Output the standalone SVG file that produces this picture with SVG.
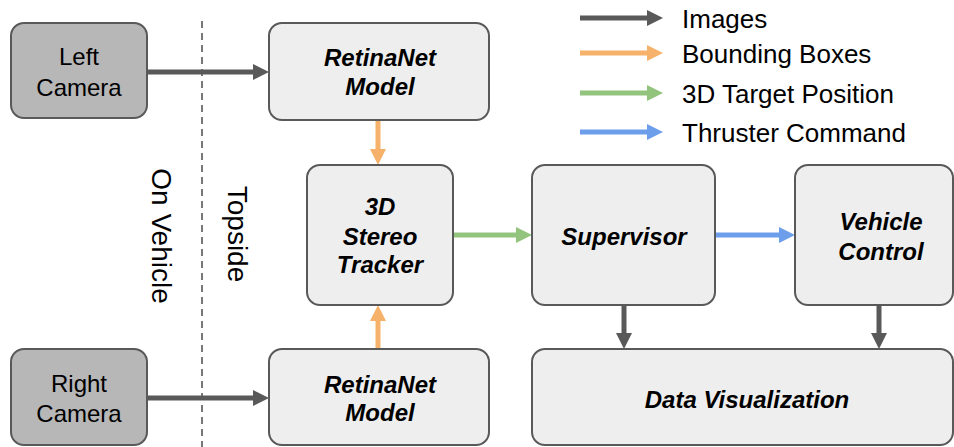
<svg xmlns="http://www.w3.org/2000/svg" width="954" height="447" viewBox="0 0 954 447">
<style>
.box{fill:#eeeeee;stroke:#595959;stroke-width:2}
.cam{fill:#b7b7b7;stroke:#595959;stroke-width:2}
.t{font-family:"Liberation Sans",Arial,sans-serif;font-size:24px;fill:#000;text-anchor:middle}
.b{font-family:"Liberation Sans",Arial,sans-serif;font-size:24px;font-weight:bold;font-style:italic;fill:#000;text-anchor:middle}
.lg{font-family:"Liberation Sans",Arial,sans-serif;font-size:26px;fill:#000}
.side{font-family:"Liberation Sans",Arial,sans-serif;font-size:28px;fill:#000;text-anchor:middle}
.g{stroke:#595959;stroke-width:5;fill:none}
.o{stroke:#f6b26b;stroke-width:5;fill:none}
.gr{stroke:#93c47d;stroke-width:5;fill:none}
.bl{stroke:#6d9eeb;stroke-width:5;fill:none}
</style>
<defs>
<marker id="mg" viewBox="0 0 16 16" markerWidth="16" markerHeight="16" refX="0" refY="8" orient="auto" markerUnits="userSpaceOnUse"><path d="M0,0 L16,8 L0,16 z" fill="#595959"/></marker>
<marker id="mo" viewBox="0 0 16 16" markerWidth="16" markerHeight="16" refX="0" refY="8" orient="auto" markerUnits="userSpaceOnUse"><path d="M0,0 L16,8 L0,16 z" fill="#f6b26b"/></marker>
<marker id="mgr" viewBox="0 0 16 16" markerWidth="16" markerHeight="16" refX="0" refY="8" orient="auto" markerUnits="userSpaceOnUse"><path d="M0,0 L16,8 L0,16 z" fill="#93c47d"/></marker>
<marker id="mbl" viewBox="0 0 16 16" markerWidth="16" markerHeight="16" refX="0" refY="8" orient="auto" markerUnits="userSpaceOnUse"><path d="M0,0 L16,8 L0,16 z" fill="#6d9eeb"/></marker>
</defs>
<rect width="954" height="447" fill="#ffffff"/>

<line x1="202" y1="21" x2="202" y2="447" stroke="#777777" stroke-width="2" stroke-dasharray="7,5"/>
<text class="side" transform="translate(152,236) rotate(90)">On Vehicle</text>
<text class="side" transform="translate(228,234) rotate(90)">Topside</text>

<g id="legend">
<line class="g" x1="580" y1="18" x2="647" y2="18" stroke-width="4" marker-end="url(#mg)"/>
<text class="lg" x="682" y="28">Images</text>
<line class="o" x1="580" y1="53" x2="647" y2="53" stroke-width="4" marker-end="url(#mo)"/>
<text class="lg" x="682" y="63">Bounding Boxes</text>
<line class="gr" x1="580" y1="93" x2="647" y2="93" stroke-width="4" marker-end="url(#mgr)"/>
<text class="lg" x="682" y="103">3D Target Position</text>
<line class="bl" x1="580" y1="132" x2="647" y2="132" stroke-width="4" marker-end="url(#mbl)"/>
<text class="lg" x="682" y="142">Thruster Command</text>
</g>

<g id="connectors">
<line class="g" x1="147" y1="72" x2="253" y2="72" marker-end="url(#mg)"/>
<line class="g" x1="147" y1="398" x2="253" y2="398" marker-end="url(#mg)"/>
<line class="o" x1="378" y1="121" x2="378" y2="149" marker-end="url(#mo)"/>
<line class="o" x1="378" y1="348" x2="378" y2="321" marker-end="url(#mo)"/>
<line class="gr" x1="453" y1="235" x2="516" y2="235" marker-end="url(#mgr)"/>
<line class="bl" x1="715" y1="235" x2="779" y2="235" marker-end="url(#mbl)"/>
<line class="g" x1="624" y1="305" x2="624" y2="333" marker-end="url(#mg)"/>
<line class="g" x1="879" y1="305" x2="879" y2="333" marker-end="url(#mg)"/>
</g>

<g id="left-camera">
<rect class="cam" x="11" y="23" width="136" height="95" rx="13"/>
<text class="t" x="79" y="65">Left</text>
<text class="t" x="79" y="96">Camera</text>
</g>
<g id="right-camera">
<rect class="cam" x="11" y="349" width="136" height="96" rx="13"/>
<text class="t" x="79" y="392">Right</text>
<text class="t" x="79" y="422">Camera</text>
</g>
<g id="retinanet-top">
<rect class="box" x="269" y="23" width="220" height="97" rx="13"/>
<text class="b" x="380" y="66">RetinaNet</text>
<text class="b" x="380" y="95">Model</text>
</g>
<g id="retinanet-bottom">
<rect class="box" x="269" y="349" width="220" height="96" rx="13"/>
<text class="b" x="380" y="393">RetinaNet</text>
<text class="b" x="380" y="421">Model</text>
</g>
<g id="tracker">
<rect class="box" x="307" y="165" width="146" height="140" rx="13"/>
<text class="b" x="380" y="215">3D</text>
<text class="b" x="380" y="245">Stereo</text>
<text class="b" x="380" y="273">Tracker</text>
</g>
<g id="supervisor">
<rect class="box" x="532" y="165" width="183" height="140" rx="13"/>
<text class="b" x="624" y="245">Supervisor</text>
</g>
<g id="vehicle-control">
<rect class="box" x="795" y="165" width="158" height="140" rx="13"/>
<text class="b" x="881" y="230">Vehicle</text>
<text class="b" x="881" y="260">Control</text>
</g>
<g id="data-visualization">
<rect class="box" x="532" y="349" width="421" height="96" rx="13"/>
<text class="b" x="747" y="408">Data Visualization</text>
</g>
</svg>
